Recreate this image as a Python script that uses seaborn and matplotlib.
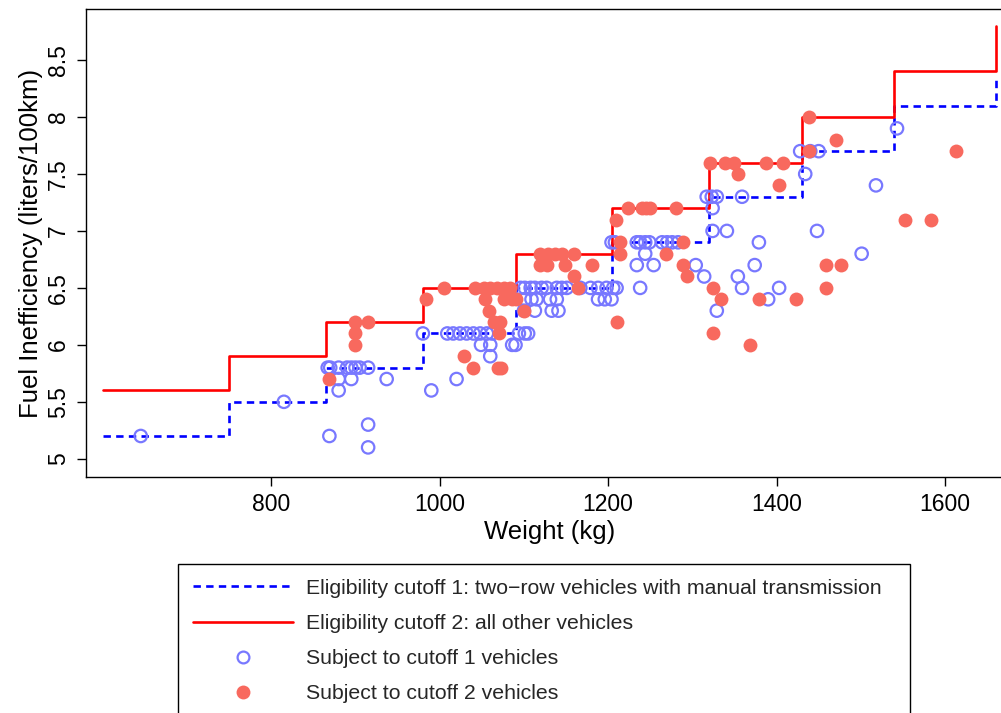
import numpy as np
import pandas as pd
import matplotlib
matplotlib.use("Agg")
import matplotlib.pyplot as plt
from matplotlib.lines import Line2D
from matplotlib.ticker import FixedLocator, FixedFormatter
import seaborn as sns

# Eligibility cutoffs: step functions over vehicle weight (kg)
cutoff_weights = [600, 750, 865, 980, 1090, 1205, 1320, 1430, 1540, 1660]
cutoff1_levels = [5.2, 5.5, 5.8, 6.1, 6.5, 6.9, 7.3, 7.7, 8.1, 8.35]
cutoff2_levels = [5.6, 5.9, 6.2, 6.5, 6.8, 7.2, 7.6, 8.0, 8.4, 8.8]

# Vehicles subject to cutoff 1 (two-row, manual transmission)
group1_weight = [
    645, 815,
    867, 870, 880, 890, 895, 900, 905, 915,
    880, 895, 937, 880, 869, 915, 915,
    980, 990, 1020,
    1009, 1016, 1024, 1032, 1040, 1048, 1056, 1062, 1094, 1101, 1105,
    1049, 1060, 1086, 1090, 1060,
    1096, 1101, 1108, 1113, 1121, 1127, 1139, 1145, 1151, 1167, 1179, 1188, 1198, 1206, 1210,
    1101, 1109, 1115, 1131, 1139, 1188, 1196, 1204,
    1100, 1113, 1133, 1141,
    1204, 1208, 1234, 1238, 1244, 1249, 1264, 1270, 1276, 1283,
    1244, 1234, 1254, 1238,
    1304, 1314, 1329,
    1317, 1323, 1329, 1359, 1324, 1324, 1341,
    1379, 1374, 1354, 1359, 1403, 1390,
    1434, 1428, 1440, 1450, 1448,
    1543, 1518, 1501,
]
group1_fuel = [
    5.2, 5.5,
    5.8, 5.8, 5.8, 5.8, 5.8, 5.8, 5.8, 5.8,
    5.7, 5.7, 5.7, 5.6, 5.2, 5.3, 5.1,
    6.1, 5.6, 5.7,
    6.1, 6.1, 6.1, 6.1, 6.1, 6.1, 6.1, 6.1, 6.1, 6.1, 6.1,
    6.0, 6.0, 6.0, 6.0, 5.9,
    6.5, 6.5, 6.5, 6.5, 6.5, 6.5, 6.5, 6.5, 6.5, 6.5, 6.5, 6.5, 6.5, 6.5, 6.5,
    6.4, 6.4, 6.4, 6.4, 6.4, 6.4, 6.4, 6.4,
    6.3, 6.3, 6.3, 6.3,
    6.9, 6.9, 6.9, 6.9, 6.9, 6.9, 6.9, 6.9, 6.9, 6.9,
    6.8, 6.7, 6.7, 6.5,
    6.7, 6.6, 6.3,
    7.3, 7.3, 7.3, 7.3, 7.2, 7.0, 7.0,
    6.9, 6.7, 6.6, 6.5, 6.5, 6.4,
    7.5, 7.7, 7.7, 7.7, 7.0,
    7.9, 7.4, 6.8,
]

# Vehicles subject to cutoff 2 (all others)
group2_weight = [
    869, 900, 915, 900, 900,
    984, 1005,
    1042, 1052, 1060, 1068, 1076, 1084,
    1054, 1076, 1086, 1090,
    1058, 1100, 1064, 1072, 1070,
    1029, 1040, 1069, 1073,
    1119, 1129, 1137, 1145, 1159,
    1119, 1127, 1149, 1181,
    1159, 1164, 1210,
    1209, 1214, 1214,
    1224, 1240, 1245, 1250, 1280,
    1269, 1289, 1289, 1294,
    1324, 1334, 1325, 1369,
    1321, 1339, 1349, 1388, 1408, 1354, 1403,
    1379, 1423,
    1438, 1438, 1471,
    1459, 1476, 1459,
    1553, 1583, 1613,
]
group2_fuel = [
    5.7, 6.2, 6.2, 6.1, 6.0,
    6.4, 6.5,
    6.5, 6.5, 6.5, 6.5, 6.5, 6.5,
    6.4, 6.4, 6.4, 6.4,
    6.3, 6.3, 6.2, 6.2, 6.1,
    5.9, 5.8, 5.8, 5.8,
    6.8, 6.8, 6.8, 6.8, 6.8,
    6.7, 6.7, 6.7, 6.7,
    6.6, 6.5, 6.2,
    7.1, 6.9, 6.8,
    7.2, 7.2, 7.2, 7.2, 7.2,
    6.8, 6.9, 6.7, 6.6,
    6.5, 6.4, 6.1, 6.0,
    7.6, 7.6, 7.6, 7.6, 7.6, 7.5, 7.4,
    6.4, 6.4,
    7.7, 8.0, 7.8,
    6.7, 6.7, 6.5,
    7.1, 7.1, 7.7,
]

x_ticks = [800, 1000, 1200, 1400, 1600]
y_ticks = [5, 5.5, 6, 6.5, 7, 7.5, 8, 8.5]
y_tick_labels = ["5", "5.5", "6", "6.5", "7", "7.5", "8", "8.5"]

legend_labels = [
    "Eligibility cutoff 1: two\u2212row vehicles with manual transmission",
    "Eligibility cutoff 2: all other vehicles",
    "Subject to cutoff 1 vehicles",
    "Subject to cutoff 2 vehicles",
]

BLUE_LINE = "#0000ff"
RED_LINE = "#ff0000"
BLUE_PT = "#7878ff"
RED_PT = "#f8695e"

sns.set_theme(style="ticks")
plt.rcParams["font.family"] = ["Liberation Sans", "DejaVu Sans"]
plt.rcParams["axes.edgecolor"] = "black"
plt.rcParams["axes.linewidth"] = 1.0

W, H = 1001, 713
fig = plt.figure(figsize=(W / 100, H / 100), dpi=100)
left_px, right_px, top_px, bottom_px = 86, 1012.4, 9, 477
ax = fig.add_axes([left_px / W, 1 - bottom_px / H,
                   (right_px - left_px) / W, (bottom_px - top_px) / H])

steps = pd.DataFrame({
    "weight": cutoff_weights,
    "cut1": cutoff1_levels,
    "cut2": cutoff2_levels,
})

sns.lineplot(data=steps, x="weight", y="cut1", ax=ax, estimator=None, sort=False,
             drawstyle="steps-post", color=BLUE_LINE, linewidth=1.9,
             dashes=False, zorder=2)
ax.lines[-1].set_dashes([2.8, 2.0])
sns.lineplot(data=steps, x="weight", y="cut2", ax=ax, estimator=None, sort=False,
             drawstyle="steps-post", color=RED_LINE, linewidth=1.9, zorder=2)

g1 = pd.DataFrame({"weight": group1_weight, "fuel": group1_fuel})
g2 = pd.DataFrame({"weight": group2_weight, "fuel": group2_fuel})

sns.scatterplot(data=g1, x="weight", y="fuel", ax=ax, marker="o", s=80,
                facecolors="none", edgecolors=BLUE_PT, linewidths=1.6, zorder=3)
sns.scatterplot(data=g2, x="weight", y="fuel", ax=ax, marker="o", s=100,
                color=RED_PT, edgecolor=RED_PT, linewidth=0, zorder=4)

ax.set_xlim(580, 1680)
ax.set_ylim(4.84, 8.948)
ax.xaxis.set_major_locator(FixedLocator(x_ticks))
ax.yaxis.set_major_locator(FixedLocator(y_ticks))
ax.yaxis.set_major_formatter(FixedFormatter(y_tick_labels))
ax.tick_params(axis="both", direction="out", length=6.5, width=1.0,
               color="black", labelsize=16.5, labelcolor="black")
ax.tick_params(axis="x", pad=5)
ax.tick_params(axis="y", pad=5)
for lab in ax.get_yticklabels():
    lab.set_rotation(90)
    lab.set_va("center")
for side in ["top", "right", "left", "bottom"]:
    ax.spines[side].set_visible(True)
    ax.spines[side].set_color("black")

ax.set_xlabel("Weight (kg)", fontsize=18.5, color="black", labelpad=3)
ax.set_ylabel("Fuel Inefficiency (liters/100km)", fontsize=18.5, color="black", labelpad=3)

handles = [
    Line2D([], [], color=BLUE_LINE, linewidth=1.9, dashes=[2.8, 2.0]),
    Line2D([], [], color=RED_LINE, linewidth=1.9),
    Line2D([], [], linestyle="none", marker="o", markersize=8.5,
           markerfacecolor="none", markeredgecolor=BLUE_PT, markeredgewidth=1.6),
    Line2D([], [], linestyle="none", marker="o", markersize=10,
           markerfacecolor=RED_PT, markeredgecolor=RED_PT, markeredgewidth=0),
]
leg_left, leg_right, leg_top = 178, 910, 564
leg = fig.legend(handles, legend_labels, loc="upper left",
                 bbox_to_anchor=(leg_left / W, 1 - leg_top / H - 0.01,
                                 (leg_right - leg_left) / W, 0.01),
                 bbox_transform=fig.transFigure, mode="expand",
                 frameon=True, fancybox=False, shadow=False, framealpha=1,
                 edgecolor="black", fontsize=15.3, handlelength=4.7,
                 handletextpad=0.6, labelspacing=0.76, borderpad=0.7,
                 borderaxespad=0, numpoints=1)
leg.get_frame().set_linewidth(1.0)

fig.savefig("out.png", dpi=100)
